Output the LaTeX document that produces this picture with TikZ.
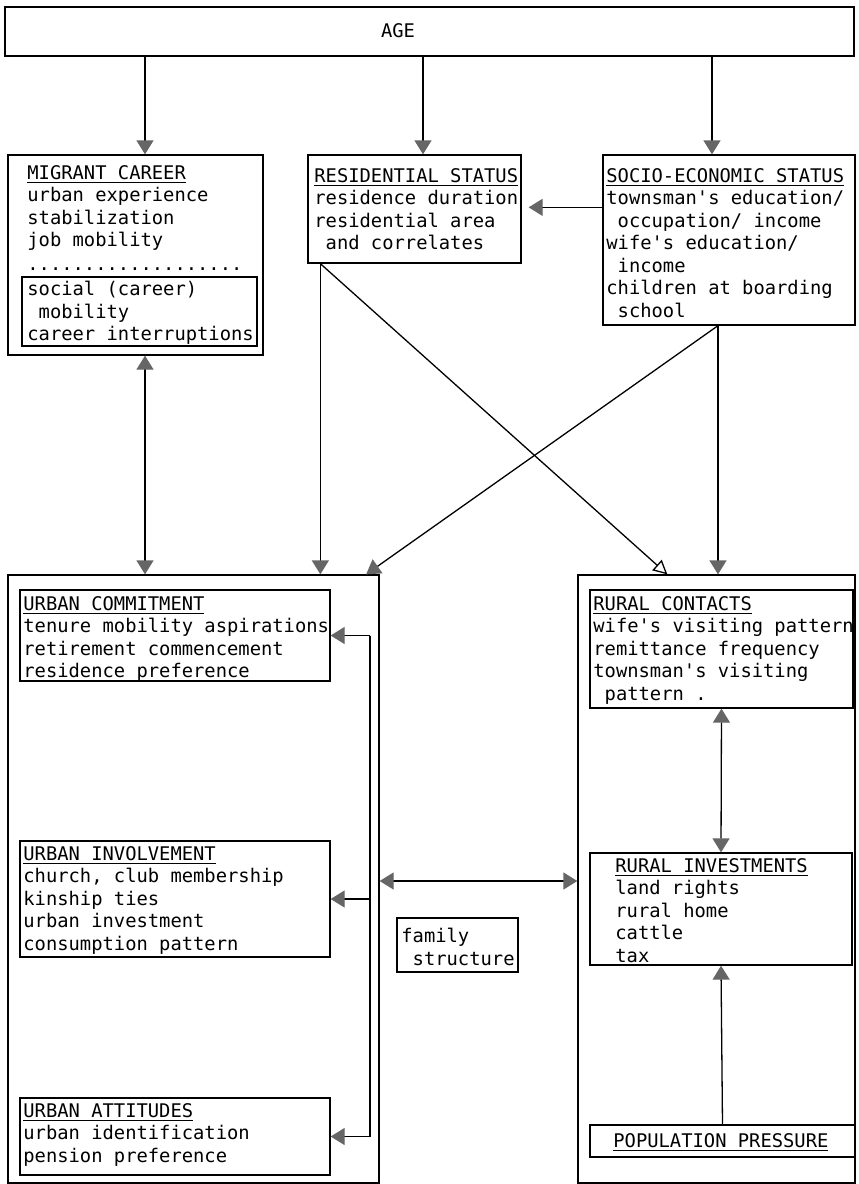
\documentclass[tikz,border=0pt]{standalone}
\usepackage{fontspec}
\setmonofont{DejaVu Sans Mono}
\usetikzlibrary{arrows.meta,positioning,fit}
\newcommand\ind{\phantom{x}}
\tikzset{box/.style={draw,line width=0.65pt,inner sep=0pt},
  txt/.style={anchor=north west,align=left,inner sep=0pt,font=\ttfamily\fontsize{9.4pt}{11.25pt}\selectfont},
  arr/.style={line width=0.65pt,-{Triangle[width=8.5pt,length=7pt,color=black!60]}},
  darr/.style={line width=0.65pt,{Triangle[width=8.5pt,length=7pt,color=black!60]}-{Triangle[width=8.5pt,length=7pt,color=black!60]}},
  oarr/.style={line width=0.65pt,-{Triangle[open,width=7pt,length=7pt]}}}

\begin{document}
\begin{tikzpicture}[x=0.5pt,y=-0.5pt]
\useasboundingbox (0,0) rectangle (858,1184);
% top row
\node[box,fit={(5,7)(854,56)}](age){};
\node[txt,anchor=center](agetxt)at(398,31){AGE};
\node[box,fit={(8,155)(263,355)}](mig){};
\node[txt](migtxt)at(27,165){\underline{MIGRANT CAREER}\\urban experience\\stabilization\\job mobility};
\node[txt](dots)at(27,267){...................};
\node[box,fit={(22,277)(257,346)}](migin){};
\node[txt](migintxt)at(27,281){social (career)\\\ind mobility\\career interruptions};
\node[box,fit={(308,155)(521,263)}](res){};
\node[txt](restxt)at(314,168){\underline{RESIDENTIAL STATUS}\\residence duration\\residential area\\\ind and correlates};
\node[box,fit={(603,155)(855,325)}](soc){};
\node[txt](soctxt)at(606,168){\underline{SOCIO-ECONOMIC STATUS}\\townsman's education/\\\ind occupation/ income\\wife's education/\\\ind income\\children at boarding\\\ind school};
% big boxes
\node[box,fit={(8,575)(379,1183)}](urb){};
\node[box,fit={(578,575)(855,1183)}](rur){};
\node[box,fit={(20,590)(330,681)}](com){};
\node[txt](comtxt)at(23,596){\underline{URBAN COMMITMENT}\\tenure mobility aspirations\\retirement commencement\\residence preference};
\node[box,fit={(20,841)(330,957)}](inv){};
\node[txt](invtxt)at(23,846){\underline{URBAN INVOLVEMENT}\\church, club membership\\kinship ties\\urban investment\\consumption pattern};
\node[box,fit={(20,1098)(330,1175)}](att){};
\node[txt](atttxt)at(23,1103){\underline{URBAN ATTITUDES}\\urban identification\\pension preference};
\node[box,fit={(397,918)(518,972)}](fam){};
\node[txt](famtxt)at(401,928){family\\\ind structure};
\node[box,fit={(590,590)(853,708)}](con){};
\node[txt](contxt)at(593,596){\underline{RURAL CONTACTS}\\wife's visiting pattern\\remittance frequency\\townsman's visiting\\\ind pattern .};
\node[box,fit={(590,853)(852,965)}](rinv){};
\node[txt](rinvtxt)at(615,858){\underline{RURAL INVESTMENTS}\\land rights\\rural home\\cattle\\tax};
\node[box,fit={(590,1125)(855,1157)}](pop){};
\node[txt](poptxt)at(613,1133){\underline{POPULATION PRESSURE}};
\coordinate(brk)at(370,0);
% connectors
\draw[arr]([xshift=4.75pt]age.south -| mig.north)--([xshift=4.75pt]mig.north);
\draw[arr]([xshift=4.25pt]age.south -| res.north)--([xshift=4.25pt]res.north);
\draw[arr]([xshift=-8.5pt]age.south -| soc.north)--([xshift=-8.5pt]soc.north);
\draw[arr]([yshift=-26.5pt]soc.north west)--([yshift=-26.5pt,xshift=3.5pt]soc.north west -| res.east);
\draw[darr]([xshift=4.75pt]mig.south)--([xshift=4.75pt]mig.south |- urb.north);
\draw[arr]([xshift=6.5pt]res.south west)--([xshift=6.5pt]res.south west |- urb.north);
\draw[oarr]([xshift=6.5pt]res.south west)--([xshift=45pt]rur.north west);
\draw[arr]([xshift=-5.5pt]soc.south)--([xshift=-6.75pt]urb.north east);
\draw[arr]([xshift=-5.5pt]soc.south)--([xshift=-5.5pt]soc.south |- rur.north);
\draw[line width=0.65pt](brk |- com.east)--(brk |- att.east);
\foreach\n in{com,inv,att}\draw[arr](brk |- \n.east)--(\n.east);
\draw[darr]([yshift=9pt]urb.east |- inv.east)--([yshift=9pt]rur.west |- inv.east);
\draw[darr](con.south)--(rinv.north);
\draw[arr](pop.north)--(rinv.south);
\end{tikzpicture}
\end{document}
